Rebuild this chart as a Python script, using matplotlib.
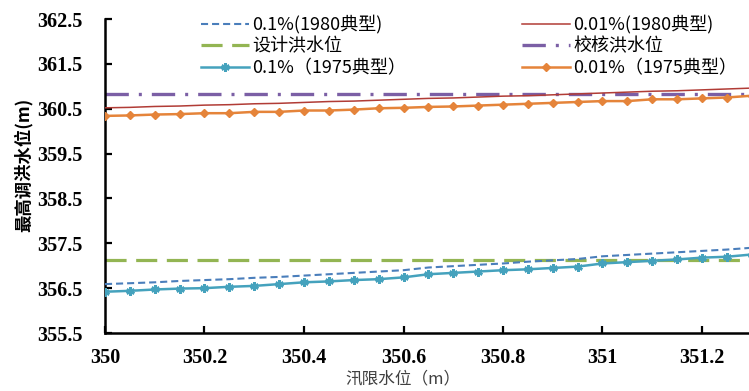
import matplotlib
matplotlib.use("Agg")
import matplotlib.pyplot as plt

# ---------------- data ----------------
x_levels = [350.00, 350.05, 350.10, 350.15, 350.20, 350.25, 350.30, 350.35, 350.40,
            350.45, 350.50, 350.55, 350.60, 350.65, 350.70, 350.75, 350.80, 350.85,
            350.90, 350.95, 351.00, 351.05, 351.10, 351.15, 351.20, 351.25, 351.30]

p01_1980 = [356.59, 356.61, 356.63, 356.66, 356.68, 356.70, 356.73, 356.75, 356.78,
            356.81, 356.84, 356.87, 356.90, 356.96, 356.99, 357.02, 357.05, 357.09,
            357.12, 357.15, 357.21, 357.24, 357.27, 357.30, 357.33, 357.36, 357.40]

p001_1980 = [360.52, 360.53, 360.55, 360.56, 360.58, 360.59, 360.61, 360.62, 360.64,
             360.66, 360.67, 360.69, 360.71, 360.73, 360.74, 360.76, 360.78, 360.79,
             360.81, 360.83, 360.85, 360.87, 360.89, 360.90, 360.92, 360.94, 360.96]

p01_1975 = [356.42, 356.44, 356.47, 356.49, 356.50, 356.53, 356.55, 356.59, 356.63,
            356.65, 356.68, 356.70, 356.74, 356.81, 356.84, 356.87, 356.90, 356.92,
            356.95, 356.98, 357.05, 357.08, 357.11, 357.14, 357.18, 357.20, 357.25]

p001_1975 = [360.34, 360.35, 360.37, 360.38, 360.40, 360.40, 360.43, 360.43, 360.46,
             360.46, 360.48, 360.51, 360.52, 360.54, 360.55, 360.57, 360.59, 360.61,
             360.63, 360.65, 360.67, 360.67, 360.71, 360.71, 360.73, 360.75, 360.79]

design_level = 357.13
check_level = 360.83

labels = ["0.1%(1980典型)", "0.01%(1980典型)", "设计洪水位", "校核洪水位",
          "0.1%（1975典型）", "0.01%（1975典型）"]

x_ticks = [350, 350.2, 350.4, 350.6, 350.8, 351, 351.2]
x_tick_labels = ["350", "350.2", "350.4", "350.6", "350.8", "351", "351.2"]
y_ticks = [355.5, 356.5, 357.5, 358.5, 359.5, 360.5, 361.5, 362.5]
y_tick_labels = ["355.5", "356.5", "357.5", "358.5", "359.5", "360.5", "361.5", "362.5"]

x_title = "汛限水位（m）"
y_title = "最高调洪水位(m)"

# ---------------- plot ----------------
CJK = ["Noto Sans CJK SC", "DejaVu Sans"]
plt.rcParams['font.family'] = CJK

W, H = 749, 391
fig = plt.figure(figsize=(W / 100, H / 100), dpi=100)
left_px, right_px, top_px, bot_px = 105, 751.75, 19, 333
ax = fig.add_axes([left_px / W, 1 - bot_px / H, (right_px - left_px) / W, (bot_px - top_px) / H])

c_blue = "#4a7ebb"
c_red = "#b13c36"
c_green = "#93b553"
c_purple = "#7b5fa5"
c_cyan = "#45a2bd"
c_orange = "#e5843a"

l1, = ax.plot(x_levels, p01_1980, color=c_blue, lw=1.5, dashes=(3.4, 1.9), zorder=3)
l2, = ax.plot(x_levels, p001_1980, color=c_red, lw=1.1, zorder=3)
l3, = ax.plot([x_levels[0], x_levels[-1]], [design_level, design_level], color=c_green,
              lw=2.3, dashes=(6.6, 3.0), zorder=2)
l4, = ax.plot([x_levels[0], x_levels[-1]], [check_level, check_level], color=c_purple,
              lw=2.4, dashes=(7.0, 3.0, 0.9, 3.0), zorder=2)
l5, = ax.plot(x_levels, p01_1975, color=c_cyan, lw=1.8, marker=(6, 2, 0), markersize=6,
              markeredgewidth=1.8, markeredgecolor=c_cyan, zorder=4)
l6, = ax.plot(x_levels, p001_1975, color=c_orange, lw=1.8, marker="D", markersize=4,
              markeredgecolor=c_orange, markerfacecolor=c_orange, zorder=4)

ax.set_xlim(350, 351.3)
ax.set_ylim(355.5, 362.5)
ax.set_xticks(x_ticks)
ax.set_xticklabels(x_tick_labels)
ax.set_yticks(y_ticks)
ax.set_yticklabels(y_tick_labels)

for lab in ax.get_xticklabels() + ax.get_yticklabels():
    lab.set_fontfamily(["Liberation Serif", "DejaVu Serif"])
    lab.set_fontweight("bold")
    lab.set_fontsize(14.5)
    lab.set_color("black")

ax.tick_params(axis="both", direction="in", length=5, width=1.6, colors="black")
ax.tick_params(axis="x", pad=11)
ax.tick_params(axis="y", pad=16)

for side in ["top", "right"]:
    ax.spines[side].set_visible(False)
for side in ["left", "bottom"]:
    ax.spines[side].set_linewidth(1.8)
    ax.spines[side].set_color("black")

fig.text(403 / W, 1 - 379 / H, x_title, ha="center", va="center", fontsize=12,
         color="#404040", family=CJK)
fig.text(23 / W, 1 - 165 / H, y_title, ha="center", va="center", rotation=90,
         fontsize=12.5, fontweight="bold", color="black", family=CJK)

leg_kw = dict(frameon=False, fontsize=13, handlelength=2.65, handletextpad=0.2,
              borderpad=0, borderaxespad=0, labelspacing=0.2, loc="upper left")
leg1 = fig.legend([l1, l3, l5], [labels[0], labels[2], labels[4]],
                  bbox_to_anchor=(201 / W, 1 - 15 / H), **leg_kw)
leg2 = fig.legend([l2, l4, l6], [labels[1], labels[3], labels[5]],
                  bbox_to_anchor=(522 / W, 1 - 15 / H), **leg_kw)
for leg in (leg1, leg2):
    for t in leg.get_texts():
        t.set_color("black")

fig.savefig("out.png", dpi=100)
